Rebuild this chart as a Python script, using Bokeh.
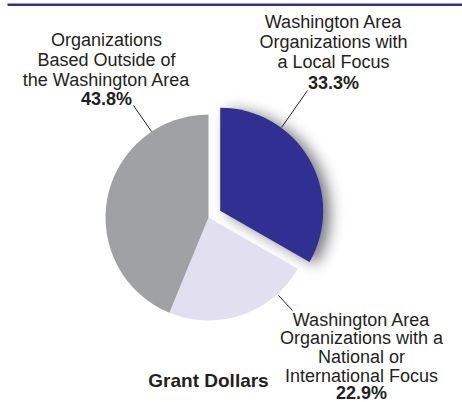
import numpy as np
from bokeh.plotting import figure
from bokeh.models import Range1d
from bokeh.embed import file_html
from bokeh.resources import INLINE
from bokeh.core.properties import value

# ---------------- data ----------------
categories = ["Local Focus", "National or International Focus", "Based Outside"]
shares = [33.3, 22.9, 43.8]
colors = ["#312F91", "#E2DFF0", "#A0A1A5"]
label_lines = [
    ["Washington Area", "Organizations with", "a Local Focus"],
    ["Washington Area", "Organizations with a", "National or", "International Focus"],
    ["Organizations", "Based Outside of", "the Washington Area"],
]
pct_labels = ["33.3%", "22.9%", "43.8%"]
title = "Grant Dollars"

# ---------------- layout ----------------
W, H = 462, 402
TEXT_SHIFT = -6.0
def Y(yi):
    return H - yi

FONT = value("Liberation Sans")
TXT = "#231F20"
cx, cy, R = 208, Y(217), 103
explode = [13.5, 0, 0]

# label layout: center x, first baseline, line pitch, pct baseline
label_pos = [(333, 27, 20, 88), (361, 325, 18.7, 398.5), (106, 45.5, 20, 104)]
leaders = [((307, 90), (281, 127)), ((278, 295), (292, 310)), ((133, 105), (151, 131))]

p = figure(width=W, height=H, x_range=Range1d(0, W), y_range=Range1d(0, H),
           output_backend="svg", toolbar_location=None, min_border=0,
           styles={"position": "absolute", "left": "0px", "top": "0px"})
p.axis.visible = False
p.grid.visible = False
p.outline_line_color = None
p.background_fill_color = "white"

# top rule
p.line(x=[7, W], y=[Y(4.3), Y(4.3)], line_color="#33338F", line_width=2.6)

# angles (clockwise from 12 o'clock)
vals = np.array(shares, dtype=float)
frac = vals / vals.sum()
end_cw = np.cumsum(frac) * 2 * np.pi
start_cw = end_cw - frac * 2 * np.pi
start_a = np.pi / 2 - end_cw
end_a = np.pi / 2 - start_cw
mid_a = (start_a + end_a) / 2
xs = cx + np.array(explode) * np.cos(mid_a)
ys = cy + np.array(explode) * np.sin(mid_a)

# ---- soft (blurred) drop shadow behind the exploded slice ----
sh_dx, sh_dy, sigma, max_alpha = 7.0, -2.5, 7.0, 0.72
x0, x1 = int(xs[0] - 40), int(xs[0] + R + 60)
y0, y1 = int(ys[0] - R - 50), int(ys[0] + R + 50)
gx = np.arange(x0, x1) + 0.5
gy = np.arange(y0, y1) + 0.5
GX, GY = np.meshgrid(gx, gy)
ddx, ddy = GX - (xs[0] + sh_dx), GY - (ys[0] + sh_dy)
rr = np.hypot(ddx, ddy)
ang = np.arctan2(ddy, ddx)
mask = ((rr <= R) & (ang >= start_a[0]) & (ang <= end_a[0])).astype(float)
ks = np.arange(-int(3 * sigma), int(3 * sigma) + 1)
kern = np.exp(-0.5 * (ks / sigma) ** 2)
kern /= kern.sum()
blur = np.apply_along_axis(lambda r: np.convolve(r, kern, mode="same"), 1, mask)
blur = np.apply_along_axis(lambda c: np.convolve(c, kern, mode="same"), 0, blur)
rgba = np.zeros(mask.shape + (4,), dtype=np.uint8)
rgba[..., 0] = 70
rgba[..., 1] = 70
rgba[..., 2] = 76
rgba[..., 3] = np.clip(blur * max_alpha * 255, 0, 255).astype(np.uint8)
img = rgba.view(dtype=np.uint32).reshape(mask.shape)
p.image_rgba(image=[img], x=x0, y=y0, dw=x1 - x0, dh=y1 - y0)

order = [1, 2, 0]
for i in order:
    p.wedge(x=xs[i], y=ys[i], radius=R, start_angle=start_a[i], end_angle=end_a[i],
            fill_color=colors[i], line_color=None)

# leader lines
for (a, b) in leaders:
    p.line(x=[a[0], b[0]], y=[Y(a[1]), Y(b[1])], line_color="#231F20", line_width=1)

# labels
for i, lines in enumerate(label_lines):
    lx, b0, pitch, pb = label_pos[i]
    p.text(x=[lx] * len(lines),
           y=[Y(b0 + j * pitch + TEXT_SHIFT) for j in range(len(lines))],
           text=lines, text_font=FONT, text_font_size="18px", text_align="center",
           text_baseline="alphabetic", text_color=TXT)
    p.text(x=[lx], y=[Y(pb + TEXT_SHIFT)], text=[pct_labels[i]], text_font=FONT,
           text_font_size="18px", text_font_style="bold", text_align="center",
           text_baseline="alphabetic", text_color=TXT)

p.text(x=[208], y=[Y(386 + TEXT_SHIFT)], text=[title], text_font=FONT, text_font_size="19px",
       text_font_style="bold", text_align="center", text_baseline="alphabetic",
       text_color=TXT)

open("out.html", "w").write(file_html(p, INLINE))
